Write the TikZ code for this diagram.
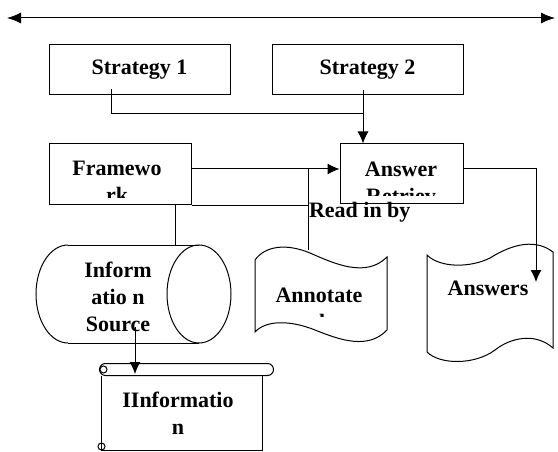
\documentclass[tikz,border=0pt]{standalone}
\usepackage{fontspec}
\setmainfont{Liberation Serif}
\usetikzlibrary{arrows.meta,positioning}

\tikzset{
    box/.style={draw, rectangle, minimum height=50pt, inner sep=0pt},
    area/.style={rectangle, inner sep=0pt},
    lbl/.style={font=\fontsize{22}{27}\selectfont\bfseries, inner sep=0pt, align=center},
    arr/.style={-{Latex[length=12pt,width=11pt]}},
}

\begin{document}
\begin{tikzpicture}[x=1pt,y=-1pt,line width=1pt]
        \useasboundingbox (0,0) rectangle (558,452);

        % strategies
        \node [box, minimum width=181pt] (strat1) at (139.5,70) {};
        \node [lbl] at (strat1) {Strategy 1};
        \node [box, minimum width=191pt] (strat2) at (367.5,70) {};
        \node [lbl] at (strat2) {Strategy 2};

        % framework and answer retrieval, text cut by the box
        \node [box, minimum width=142pt, minimum height=61pt] (frame) at (120,174.5) {};
        \node [box, minimum width=123pt, minimum height=60pt] (retr) at (401.5,174) {};
        \begin{scope}
            \clip (frame.north west) rectangle ([yshift=8pt]frame.south east);
            \node [lbl] at (117,181.5) {Framewo\\rk};
        \end{scope}
        \begin{scope}
            \clip (retr.north west) rectangle ([yshift=9pt]retr.south east);
            \node [lbl] at (401,182.5) {Answer\\Retriev};
        \end{scope}

        % information source
        \node [area, minimum width=196pt, minimum height=98pt] (source) at (134,294) {};
        \draw (68,245) -- (199,245) (68,343) -- (199,343);
        \draw (68,245) arc [start angle=270, end angle=90, x radius=32, y radius=49];
        \draw (199,294) ellipse [x radius=32, y radius=49];
        \node [lbl] at (118,297) {Inform\\atio n\\Source};

        % annotated
        \node [area, minimum width=132pt, minimum height=95pt] (annot) at (321,295.5) {};
        \draw (255,260) .. controls (265,246) and (286,243) .. (310,253)
              .. controls (335,264) and (366,278) .. (387,257) -- (387,330)
              .. controls (368,350) and (340,340) .. (315,330)
              .. controls (290,320) and (266,320) .. (255,332) -- cycle;
        \begin{scope}
            \clip (250,240) rectangle (392,316);
            \node [lbl] at (319,308.5) {Annotate\\d};
        \end{scope}

        % answers
        \node [area, minimum width=126pt, minimum height=113pt] (answers) at (490,304.5) {};
        \draw (427,255) .. controls (440,268) and (470,268) .. (490,258)
              .. controls (506,248) and (532,236) .. (553,252) -- (553,348)
              .. controls (535,332) and (510,338) .. (495,350)
              .. controls (475,365) and (440,365) .. (427,352) -- cycle;
        \node [lbl] at (488,288) {Answers};

        % scroll
        \node [area, minimum width=160pt, minimum height=74pt] (info) at (182,413) {};
        \node [lbl] at (178,413) {IInformatio\\n};
        \draw (info.north west) -- (info.south west) -- (info.south east) -- (info.north east);
        \draw [rounded corners=6pt] ([shift={(-2,-12)}]info.north west) rectangle ([shift={(11,0)}]info.north east);
        \draw ([shift={(2,-6)}]info.north west) circle (3.5pt);
        \draw ([shift={(0,-4)}]info.south west) circle (3.5pt);

        % connectors
        \coordinate (lend) at (7,18);
        \coordinate (rend) at (555,18);
        \draw [{Latex[length=14pt,width=11pt]}-{Latex[length=14pt,width=11pt]}] (lend) -- (rend);

        \coordinate (join) at (363,114);
        \draw (strat1.south -| 111,0) ++(0,-6) |- (join);
        \draw [arr] (strat2.south -| join) ++(0,-5) -- (retr.north -| join);
        \draw [arr] (frame.east |- 0,169) -- (retr.west |- 0,169);
        \coordinate (tap) at (308,169);
        \draw (frame.south east) -- (tap |- frame.south);
        \draw (tap) -- (308,250);
        \draw (175,0 |- frame.south) -- (175,0 |- source.north);
        \draw [arr] (retr.east |- 0,169) -| (536,282);
        \coordinate (srcout) at (135,327);
        \draw [arr] (srcout) -- (135,374);

        \node [lbl, anchor=west] at (308.5,212.5) {Read in by};
\end{tikzpicture}
\end{document}
